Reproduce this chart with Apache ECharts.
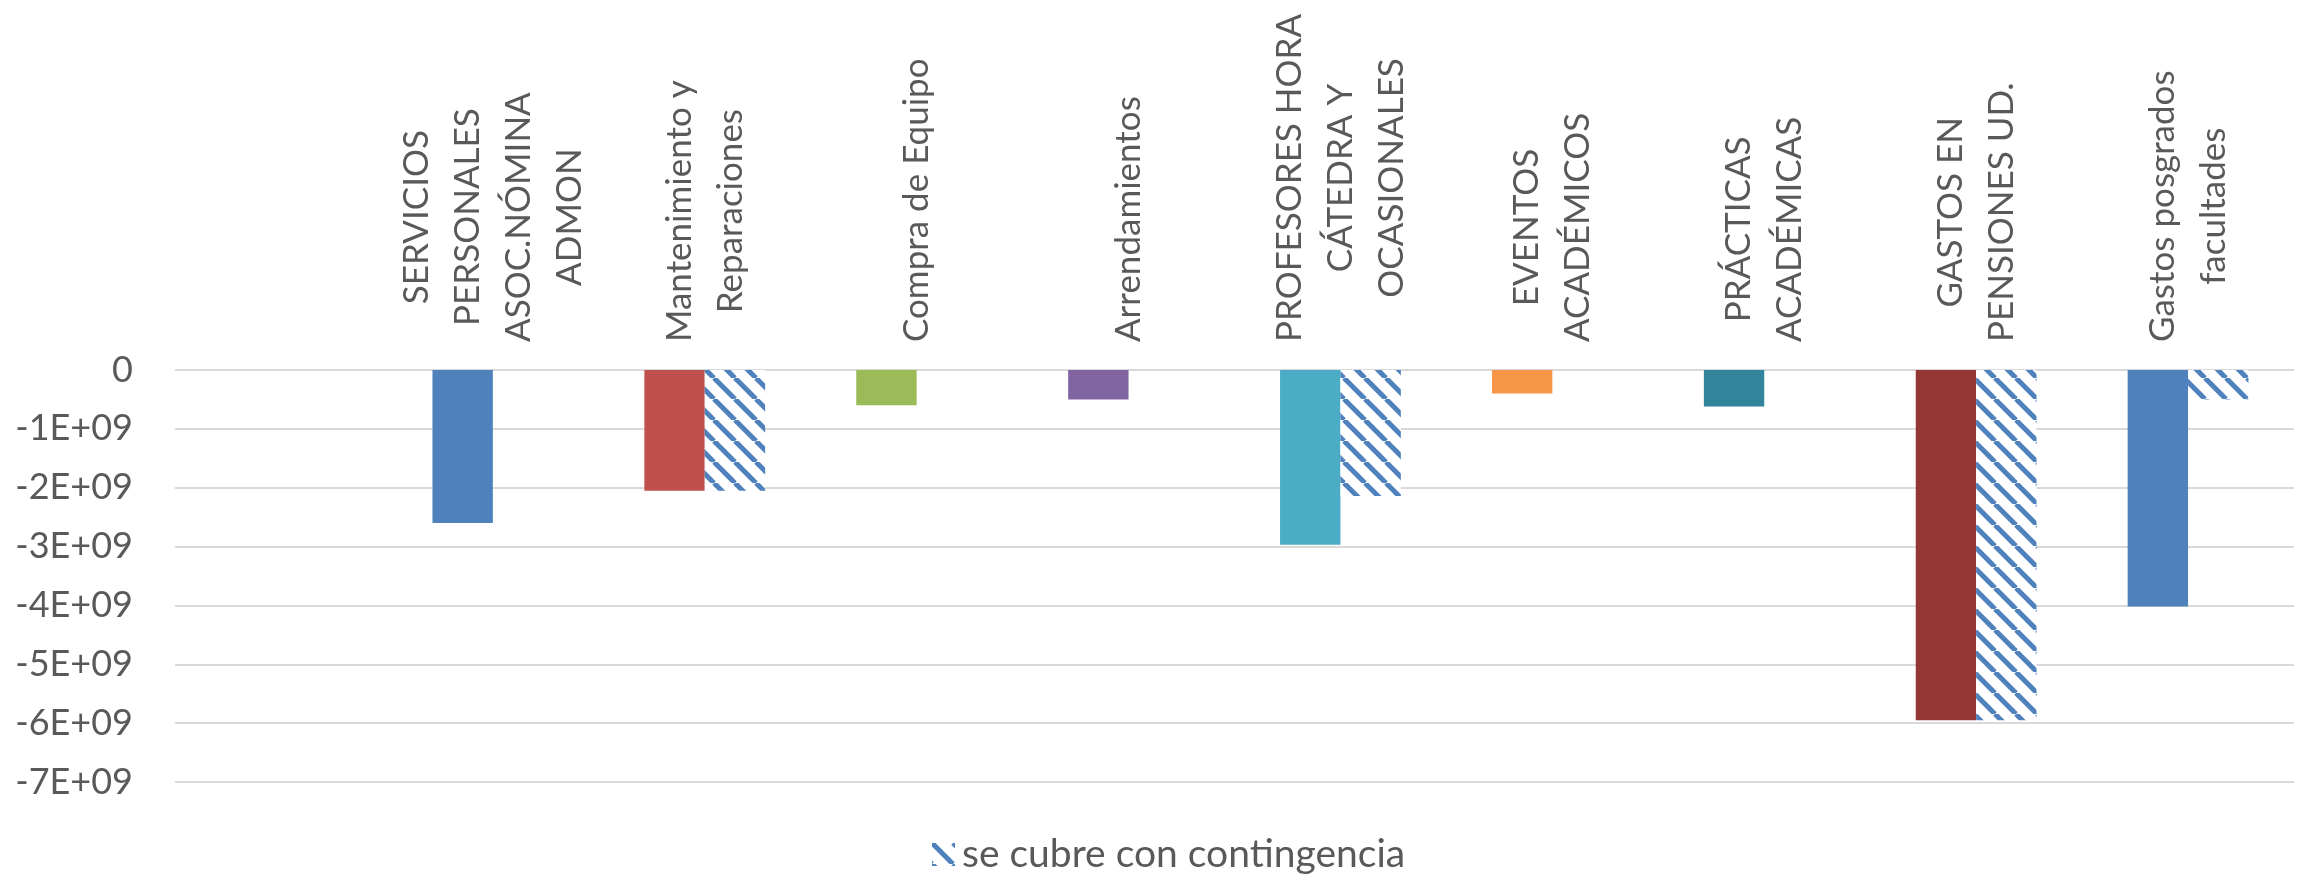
<!DOCTYPE html>
<html>
<head>
<meta charset="utf-8">
<title>Gastos y contingencia</title>
<script src="https://cdn.jsdelivr.net/npm/echarts@6/dist/echarts.min.js"></script>
<style>
    html, body { margin: 0; padding: 0; background: #fff; }
    #chartDiv { width: 2300px; height: 879px; }
</style>
</head>
<body>
<div id="chartDiv"></div>
<script>
// categorias (la primera va vacia, el grafico original deja ese hueco)
var categorias = [
    '',
    'SERVICIOS\nPERSONALES\nASOC.NÓMINA\nADMON',
    'Mantenimiento y\nReparaciones',
    'Compra de Equipo',
    'Arrendamientos',
    'PROFESORES HORA\nCÁTEDRA Y\nOCASIONALES',
    'EVENTOS\nACADÉMICOS',
    'PRÁCTICAS\nACADÉMICAS',
    'GASTOS EN\nPENSIONES UD.',
    'Gastos posgrados\nfacultades'
];
// valor del gasto por categoria
var valoresGasto = [null, -2.6e9, -2.05e9, -0.6e9, -0.5e9, -2.97e9, -0.4e9, -0.62e9, -5.95e9, -4.02e9];
// parte que se cubre con contingencia
var valoresContingencia = [null, null, -2.05e9, null, null, -2.14e9, null, null, -5.95e9, -0.5e9];
var coloresGasto = ['#4F81BD', '#4F81BD', '#C0504D', '#9BBB59', '#8064A2', '#4BACC6', '#F79646', '#31849B', '#943634', '#4F81BD'];
var ticksY = [0, -1e9, -2e9, -3e9, -4e9, -5e9, -6e9, -7e9];
var nombreContingencia = 'se cubre con contingencia';

var chartDiv;

function crearRayado() {
    // patron de rayas diagonales azules
    var s = 21;
    var c = document.createElement('canvas');
    c.width = s;
    c.height = s;
    var ctx = c.getContext('2d');
    ctx.fillStyle = '#ffffff';
    ctx.fillRect(0, 0, s, s);
    ctx.strokeStyle = '#4F81BD';
    ctx.lineWidth = 5;
    for (var k = -1; k <= 1; k++) {
        ctx.beginPath();
        ctx.moveTo(k * s, 0);
        ctx.lineTo(k * s + s, s);
        ctx.stroke();
    }
    return c;
}

function etiquetaCategoria(value) {
    if (!value) return '';
    return value.split('\n').map(function (l) {
        return '{c|' + l + '}';
    }).join('\n');
}

function etiquetaY(value) {
    if (value === 0) return '0';
    return (value / 1e9) + 'E+09';
}

window.onload = function () {
    chartDiv = echarts.init(document.getElementById('chartDiv'));
    var rayado = crearRayado();

    var option = {
        animation: false,
        backgroundColor: '#ffffff',
        grid: {
            left: 175,
            right: 6,
            top: 370,
            bottom: 97,
            containLabel: false,
            outerBoundsMode: 'none'
        },
        legend: {
            data: [nombreContingencia],
            left: 927,
            top: 830,
            itemWidth: 23,
            itemHeight: 23,
            icon: 'rect',
            textStyle: {
                fontFamily: 'Lato',
                fontSize: 39,
                color: '#595959',
                padding: [0, 0, 0, 2]
            }
        },
        xAxis: {
            type: 'category',
            position: 'top',
            data: categorias,
            axisLine: {show: false},
            axisTick: {show: false},
            axisLabel: {
                interval: 0,
                rotate: 90,
                margin: 28,
                formatter: etiquetaCategoria,
                rich: {
                    c: {
                        align: 'center',
                        fontFamily: 'Lato',
                        fontSize: 35,
                        lineHeight: 51,
                        color: '#595959'
                    }
                }
            }
        },
        yAxis: {
            type: 'value',
            min: ticksY[ticksY.length - 1],
            max: ticksY[0],
            interval: 1e9,
            axisLine: {show: false},
            axisTick: {show: false},
            axisLabel: {
                formatter: etiquetaY,
                margin: 42,
                fontFamily: 'Lato',
                fontSize: 36,
                color: '#595959'
            },
            splitLine: {
                lineStyle: {color: '#D9D9D9', width: 2}
            }
        },
        series: [
            {
                type: 'bar',
                name: 'gasto',
                barGap: '0%',
                barCategoryGap: '43%',
                data: valoresGasto.map(function (v, i) {
                    return {value: v, itemStyle: {color: coloresGasto[i]}};
                })
            },
            {
                type: 'bar',
                name: nombreContingencia,
                barGap: '0%',
                barCategoryGap: '43%',
                itemStyle: {
                    color: {image: rayado, repeat: 'repeat'}
                },
                data: valoresContingencia
            }
        ]
    };
    chartDiv.setOption(option);
};
</script>
</body>
</html>
